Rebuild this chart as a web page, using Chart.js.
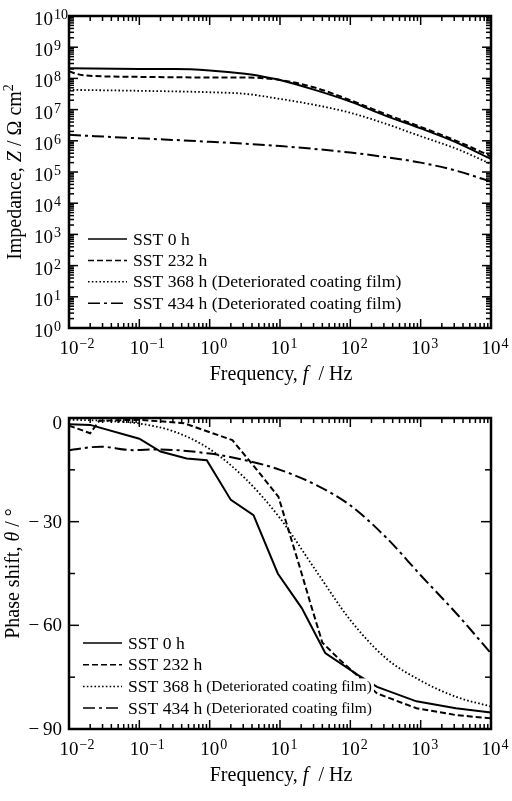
<!DOCTYPE html>
<html>
<head>
<meta charset="utf-8">
<script src="https://cdn.jsdelivr.net/npm/chart.js@4.4.1/dist/chart.umd.min.js"></script>
<style>
  body { margin: 0; background: #fff; }
  canvas { display: block; }
</style>
</head>
<body>
<canvas id="graph1" width="512" height="400"></canvas>
<canvas id="graph2" width="512" height="401"></canvas>
<script>
const seriesNames = ['SST 0 h', 'SST 232 h', 'SST 368 h', 'SST 434 h'];
const seriesNotes = ['', '', '(Deteriorated coating film)', '(Deteriorated coating film)'];

// impedance |Z| (Ohm cm2) vs frequency (Hz)
const freqZ0 = [0.01, 0.1, 0.32, 1, 3.2, 5.6, 10, 32, 100, 320, 1000, 3200, 10000];
const imp0   = [2.1e8, 2.0e8, 2.0e8, 1.8e8, 1.4e8, 1.15e8, 8.9e7, 4.2e7, 1.8e7, 6.3e6, 2.5e6, 8.9e5, 2.6e5];
const freqZ1 = [0.01, 0.016, 0.1, 1, 3.2, 10, 32, 100, 320, 1000, 3200, 10000];
const imp1   = [1.66e8, 1.26e8, 1.12e8, 1.07e8, 1.07e8, 8.9e7, 5.0e7, 2.0e7, 7.1e6, 2.8e6, 1.0e6, 3.2e5];
const freqZ2 = [0.01, 0.1, 1, 3.2, 10, 32, 100, 320, 1000, 3200, 10000];
const imp2   = [4.3e7, 4.0e7, 3.6e7, 3.2e7, 2.2e7, 1.4e7, 7.9e6, 3.5e6, 1.4e6, 5.6e5, 1.8e5];
const freqZ3 = [0.01, 0.1, 1, 10, 100, 320, 1000, 3200, 10000];
const imp3   = [1.55e6, 1.2e6, 9.3e5, 6.8e5, 4.2e5, 3.0e5, 2.0e5, 1.1e5, 4.9e4];

// phase shift (deg) vs frequency (Hz)
const freqP0 = [0.01, 0.02, 0.1, 0.2, 0.47, 0.91, 2, 4.2, 9.3, 20.4, 44, 129, 240, 871, 3162, 10000];
const phase0 = [-1.8, -2.0, -6, -9.7, -11.7, -12.2, -23.7, -28.1, -45, -55, -68, -74.4, -77.8, -82, -84, -85.2];
const freqP1 = [0.01, 0.02, 0.027, 0.1, 0.43, 2.1, 4.7, 9.5, 19, 28, 40, 71, 240, 871, 3236, 10000];
const phase1 = [-2.2, -4.4, -0.8, -0.5, -1.5, -6.4, -15, -22.8, -43, -54.6, -65, -70, -79.7, -84, -86, -86.9];
const freqP2 = [0.01, 0.032, 0.1, 0.32, 1, 3.2, 10, 32, 100, 320, 1000, 3200, 10000];
const phase2 = [-0.5, -0.8, -1.6, -4, -9, -17.5, -29, -44, -58.5, -69.5, -76, -80.7, -83.5];
const freqP3 = [0.01, 0.028, 0.081, 0.18, 1, 3.2, 10, 32, 100, 320, 1000, 3200, 10000];
const phase3 = [-9.3, -8.3, -9.3, -9.1, -10.3, -12.2, -15, -19.3, -25.3, -34.5, -45.5, -56.5, -68.1];

const xDecades = [-2, -1, 0, 1, 2, 3, 4];
const zDecades = [0, 1, 2, 3, 4, 5, 6, 7, 8, 9, 10];
const phaseMajor = [0, -30, -60, -90];
const phaseMinor = [-15, -45, -75];

const FONT = '"Liberation Serif", "DejaVu Serif", serif';
const dashes = [[], [6, 3], [1.6, 2.2], [12, 4, 3, 4]];

function pts(xs, ys) {
  return xs.map((x, i) => ({ x: x, y: ys[i] }));
}

function makeSets(list, smooth) {
  return list.map((d, i) => ({
    label: seriesNames[i],
    data: pts(d[0], d[1]),
    borderColor: '#000',
    borderWidth: i === 2 ? 1.8 : 2,
    borderDash: dashes[i],
    pointRadius: 0,
    fill: false,
    cubicInterpolationMode: smooth[i] ? 'monotone' : 'default',
    tension: 0
  }));
}

function line(ctx, x1, y1, x2, y2) {
  ctx.beginPath(); ctx.moveTo(x1, y1); ctx.lineTo(x2, y2); ctx.stroke();
}

function drawPow(ctx, exp, x, y, align) {
  ctx.font = '19px ' + FONT;
  const bw = ctx.measureText('10').width;
  const bx = align === 'center' ? x - bw / 2 : x - bw;
  ctx.textAlign = 'left';
  ctx.textBaseline = 'alphabetic';
  ctx.fillText('10', bx, y);
  ctx.font = '14px ' + FONT;
  const e = exp < 0 ? '\u2212' + (-exp) : String(exp);
  ctx.fillText(e, bx + bw + 1, y - 6);
}

// rich text: parts with italic / superscript
function drawRich(ctx, parts, cx, cy, rot) {
  ctx.save();
  ctx.translate(cx, cy);
  if (rot) ctx.rotate(-Math.PI / 2);
  const f = p => (p.i ? 'italic ' : '') + (p.sup ? '14px ' : '20px ') + FONT;
  let w = 0;
  parts.forEach(p => { ctx.font = f(p); w += ctx.measureText(p.t).width; });
  let x = -w / 2;
  ctx.textAlign = 'left';
  ctx.textBaseline = 'alphabetic';
  parts.forEach(p => {
    ctx.font = f(p);
    ctx.fillText(p.t, x, p.sup ? -2 : 6);
    x += ctx.measureText(p.t).width;
  });
  ctx.restore();
}

const framePlugin = {
  id: 'frame',
  afterDraw(chart, args, o) {
    const { ctx, chartArea: a, scales } = chart;
    const xs = scales.x, ys = scales.y;
    ctx.save();
    ctx.strokeStyle = '#000';
    ctx.fillStyle = '#000';
    ctx.setLineDash([]);
    ctx.lineWidth = 1.5;
    // log x ticks, inward on bottom and top
    xDecades.forEach(d => {
      for (let m = 1; m <= 9; m++) {
        const v = m * Math.pow(10, d);
        if (v > xs.max * 1.0001) break;
        const px = xs.getPixelForValue(v);
        const len = m === 1 ? 9 : 5;
        line(ctx, px, a.bottom, px, a.bottom - len);
        line(ctx, px, a.top, px, a.top + len);
      }
      drawPow(ctx, d, xs.getPixelForValue(Math.pow(10, d)), a.bottom + 26, 'center');
    });
    if (o.logY) {
      zDecades.forEach(d => {
        for (let m = 1; m <= 9; m++) {
          const v = m * Math.pow(10, d);
          if (v > ys.max * 1.0001) break;
          const py = ys.getPixelForValue(v);
          const len = m === 1 ? 9 : 5;
          line(ctx, a.left, py, a.left + len, py);
          line(ctx, a.right, py, a.right - len, py);
        }
        drawPow(ctx, d, a.left - 16, ys.getPixelForValue(Math.pow(10, d)) + 9, 'right');
      });
    } else {
      phaseMinor.forEach(v => {
        const py = ys.getPixelForValue(v);
        line(ctx, a.left, py, a.left + 6, py);
        line(ctx, a.right, py, a.right - 6, py);
      });
      ctx.font = '19px ' + FONT;
      ctx.textAlign = 'right';
      ctx.textBaseline = 'middle';
      phaseMajor.forEach(v => {
        const py = ys.getPixelForValue(v);
        line(ctx, a.left, py, a.left + 10, py);
        line(ctx, a.right, py, a.right - 10, py);
        const t = v === 0 ? '0' : '\u2212\u2009' + Math.abs(v);
        ctx.fillText(t, a.left - 7, Math.max(py + 1, a.top + 6));
      });
    }
    ctx.lineWidth = 2.5;
    ctx.strokeRect(a.left, a.top, a.right - a.left, a.bottom - a.top);
    drawRich(ctx, o.yTitle, o.yTitleX, (a.top + a.bottom) / 2, true);
    drawRich(ctx, [{ t: 'Frequency, ' }, { t: 'f', i: true }, { t: '  / Hz' }],
      (a.left + a.right) / 2 + 1, a.bottom + 46, false);
    ctx.restore();
  }
};

const legendPlugin = {
  id: 'innerLegend',
  afterDatasetsDraw(chart, args, o) {
    const ctx = chart.ctx;
    ctx.save();
    chart.data.datasets.forEach((ds, i) => {
      const y = o.y0 + i * o.dy;
      ctx.font = o.size + 'px ' + FONT;
      const w1 = ctx.measureText(ds.label).width;
      let w2 = 0;
      if (seriesNotes[i]) {
        ctx.font = o.noteSize + 'px ' + FONT;
        w2 = ctx.measureText(' ' + seriesNotes[i]).width;
      }
      ctx.fillStyle = '#fff';
      ctx.fillRect(o.tx - 2, y - 8, w1 + w2 + 4, 17);
      ctx.strokeStyle = '#000';
      ctx.lineWidth = 1.5;
      ctx.setLineDash(ds.borderDash);
      line(ctx, o.x0, y, o.x1, y);
      ctx.setLineDash([]);
      ctx.fillStyle = '#000';
      ctx.textAlign = 'left';
      ctx.textBaseline = 'middle';
      ctx.font = o.size + 'px ' + FONT;
      ctx.fillText(ds.label, o.tx, y + 1);
      if (seriesNotes[i]) {
        ctx.font = o.noteSize + 'px ' + FONT;
        ctx.fillText(' ' + seriesNotes[i], o.tx + w1, y + 1);
      }
    });
    ctx.restore();
  }
};

function baseOptions(yScale, padTop) {
  return {
    responsive: false,
    animation: false,
    layout: { padding: { top: padTop, right: 21, left: 0, bottom: 0 } },
    plugins: { legend: { display: false }, tooltip: { enabled: false } },
    scales: {
      x: {
        type: 'logarithmic', min: 0.01, max: 10000,
        ticks: { display: false }, grid: { display: false }, border: { display: false },
        afterFit(s) { s.height = 72; }
      },
      y: Object.assign({
        ticks: { display: false }, grid: { display: false }, border: { display: false },
        afterFit(s) { s.width = 69; }
      }, yScale)
    }
  };
}

const opt1 = baseOptions({ type: 'logarithmic', min: 1, max: 1e10 }, 16);
opt1.plugins.frame = {
  logY: true, yTitleX: 15,
  yTitle: [{ t: 'Impedance, ' }, { t: 'Z', i: true }, { t: ' / \u03A9 cm' }, { t: '2', sup: true }]
};
opt1.plugins.innerLegend = { x0: 88, x1: 127, tx: 133, y0: 239, dy: 21.4, size: 17.6, noteSize: 17.6 };

new Chart(document.getElementById('graph1'), {
  type: 'line',
  data: {
    datasets: makeSets([[freqZ0, imp0], [freqZ1, imp1], [freqZ2, imp2], [freqZ3, imp3]],
      [true, true, true, true])
  },
  options: opt1,
  plugins: [legendPlugin, framePlugin]
});

const opt2 = baseOptions({ type: 'linear', min: -90, max: 0 }, 18);
opt2.plugins.frame = {
  logY: false, yTitleX: 13,
  yTitle: [{ t: 'Phase shift, ' }, { t: '\u03B8', i: true }, { t: ' / \u00B0' }]
};
opt2.plugins.innerLegend = { x0: 83, x1: 122, tx: 128, y0: 243, dy: 21.7, size: 17.6, noteSize: 15.4 };

new Chart(document.getElementById('graph2'), {
  type: 'line',
  data: {
    datasets: makeSets([[freqP0, phase0], [freqP1, phase1], [freqP2, phase2], [freqP3, phase3]],
      [false, false, true, true])
  },
  options: opt2,
  plugins: [legendPlugin, framePlugin]
});
</script>
</body>
</html>
